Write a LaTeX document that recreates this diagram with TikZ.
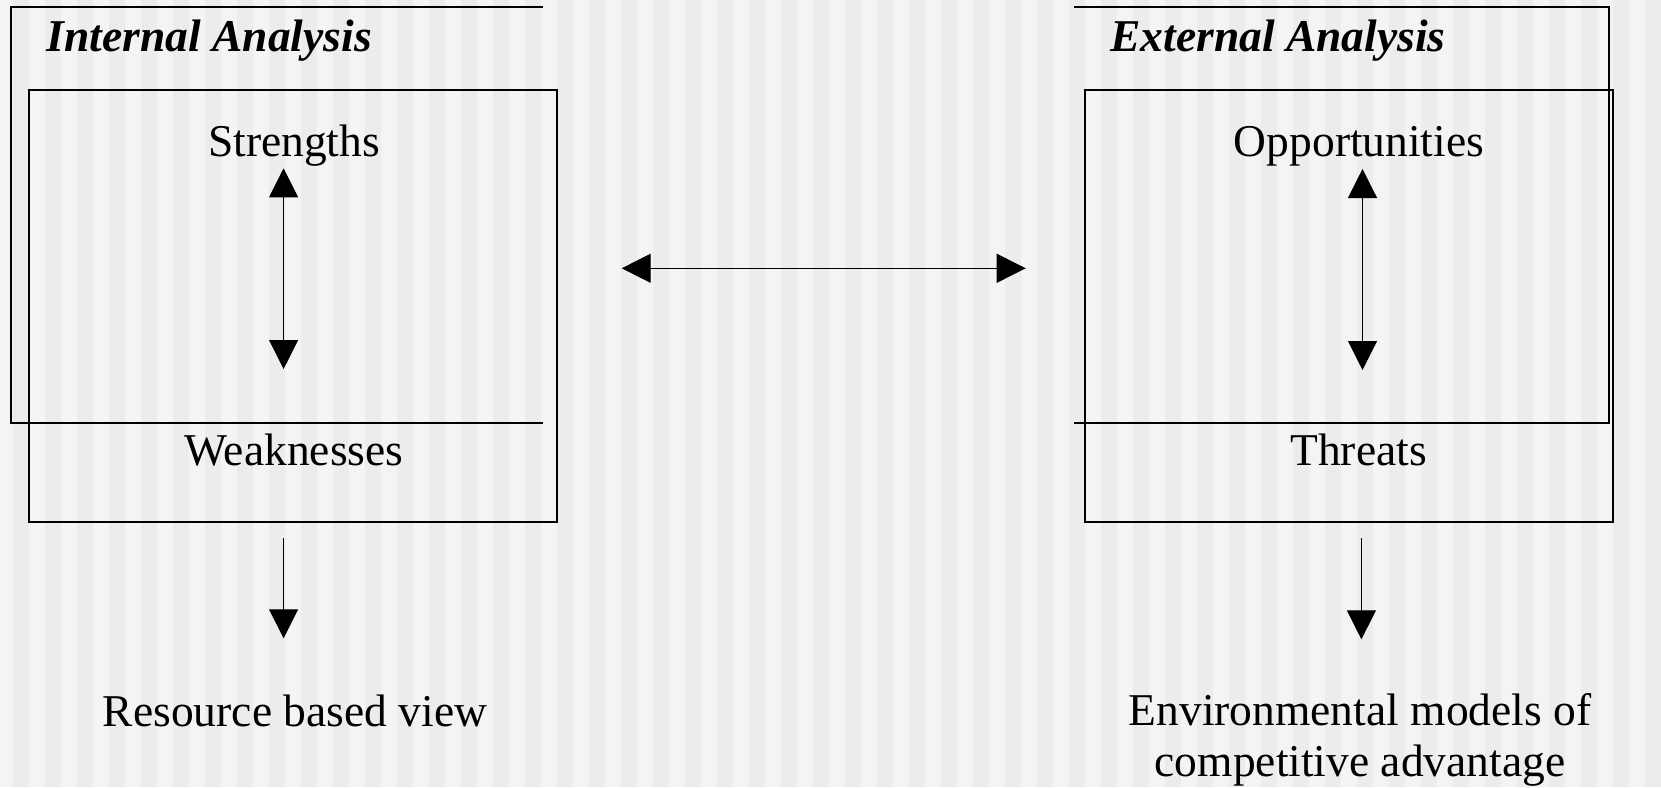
\documentclass[tikz,border=0pt]{standalone}
\usepackage{fontspec}
\setmainfont{Liberation Serif}
\usetikzlibrary{arrows.meta}
\definecolor{bglight}{HTML}{F4F4F4}
\definecolor{bgdark}{HTML}{ECECEC}
\tikzset{
  frameline/.style={line width=2pt, black},
  panel/.style={draw=black, line width=2pt, minimum width=528pt, minimum height=431.7pt, inner sep=0pt},
  label/.style={inner sep=0pt, font=\fontsize{45.5}{51}\selectfont},
  heading/.style={inner sep=0pt, font=\fontsize{45.5}{51}\selectfont\bfseries\itshape},
  conn/.style={line width=1pt, -{Triangle[length=29pt,width=29pt]}},
  dconn/.style={line width=1pt, {Triangle[length=29pt,width=29pt]}-{Triangle[length=29pt,width=29pt]}}
}
\begin{document}
\begin{tikzpicture}[x=1pt,y=-1pt]
\useasboundingbox (0,0) rectangle (1661,787);
% striped background
\fill[bglight] (0,0) rectangle (1661,787);
\foreach \i in {0,...,51} \fill[bgdark] ({13+32*\i},0) rectangle ({29+32*\i},787);
% outer open frames
\draw[frameline] (543,7.3) -- (10.5,7.3) -- (10.5,422.7) -- (543,422.7);
\draw[frameline] (1074,7.3) -- (1609,7.3) -- (1609,422.7) -- (1074,422.7);
% headings
\node[heading, anchor=base west] (intH) at (46.7,51) {Internal Analysis};
\node[heading, anchor=base west] (extH) at (1110.4,51) {External Analysis};
% inner boxes
\node[panel] (Lbox) at (293,305.85) {};
\node[panel] (Rbox) at (1348.85,305.85) {};
% labels
\node[label, anchor=base] (S) at (294,156) {Strengths};
\node[label, anchor=base] (W) at (294,465.7) {Weaknesses};
\node[label, anchor=base] (O) at (1359,156) {Opportunities};
\node[label, anchor=base] (T) at (1358.5,465.7) {Threats};
\node[label, anchor=base] (RBV) at (295,726) {Resource based view};
\node[label, anchor=base] (EM1) at (1360,725) {Environmental models of};
\node[label, anchor=base] (EM2) at (1360,776) {competitive advantage};
% arrow end points
\coordinate (sw1) at (283.6,168.3);
\coordinate (sw2) at (283.6,369);
\coordinate (ot1) at (1362.5,169);
\coordinate (ot2) at (1362.5,370);
\coordinate (mid1) at (621.7,268.3);
\coordinate (mid2) at (1025.7,268.3);
\coordinate (ld1) at (283.6,538.3);
\coordinate (ld2) at (283.6,638.3);
\coordinate (rd1) at (1361.4,538.3);
\coordinate (rd2) at (1361.4,639.3);
% connectors
\draw[dconn] (sw1) -- (sw2);
\draw[dconn] (ot1) -- (ot2);
\draw[dconn] (mid1) -- (mid2);
\draw[conn] (ld1) -- (ld2);
\draw[conn] (rd1) -- (rd2);
\end{tikzpicture}
\end{document}
